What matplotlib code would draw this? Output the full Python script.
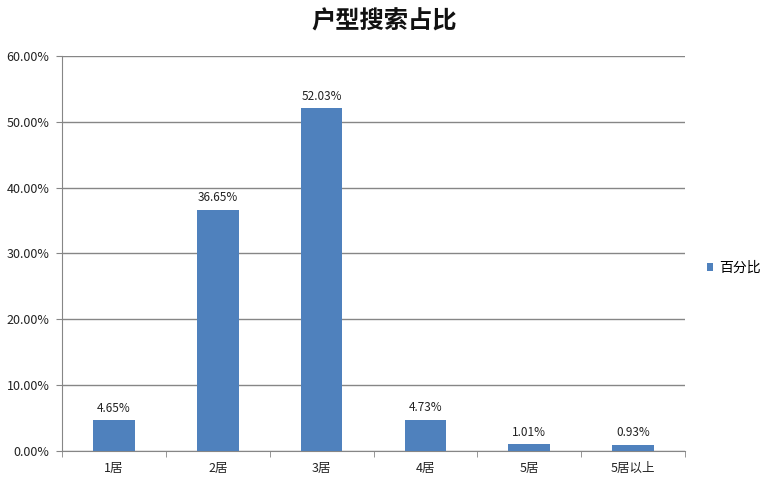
import matplotlib
matplotlib.use("Agg")
import matplotlib.pyplot as plt
from matplotlib.ticker import FuncFormatter
from matplotlib.patches import Patch

categories = ["1居", "2居", "3居", "4居", "5居", "5居以上"]
values = [4.65, 36.65, 52.03, 4.73, 1.01, 0.93]
series_name = "百分比"
title = "户型搜索占比"
yticks = [0, 10, 20, 30, 40, 50, 60]

plt.rcParams['font.family'] = ['Noto Sans CJK SC', 'DejaVu Sans']

fig = plt.figure(figsize=(7.68, 4.94), dpi=100)
ax = fig.add_axes([62/768, 1-451/494, (685-62)/768, (451-56)/494])

bar_color = "#4F81BD"
x = list(range(len(categories)))
bars = ax.bar(x, values, width=0.4, color=bar_color, zorder=3)

for xi, v in zip(x, values):
    ax.annotate(f"{v:.2f}%", (xi, v), xytext=(0, 4), textcoords="offset points",
                ha="center", va="bottom", fontsize=8.5, color="#222222")

ax.set_ylim(0, 60)
ax.set_xlim(-0.5, len(categories) - 0.5)
ax.set_yticks(yticks)
ax.yaxis.set_major_formatter(FuncFormatter(lambda v, p: f"{v:.2f}%"))
ax.set_xticks(x)
ax.set_xticklabels(categories)
ax.set_xticks([i + 0.5 for i in range(-1, len(categories))], minor=True)
ax.tick_params(axis="x", which="major", length=0, pad=8, labelsize=9, labelcolor="#222222")
ax.tick_params(axis="x", which="minor", length=4, color="#868686", direction="out")
ax.tick_params(axis="y", length=4, color="#868686", labelsize=9, labelcolor="#222222", pad=5)

ax.grid(axis="y", color="#868686", linewidth=1.0, zorder=0)
for s in ["top", "right"]:
    ax.spines[s].set_visible(False)
ax.spines["left"].set_color("#868686")
ax.spines["bottom"].set_color("#868686")

fig.text(0.5, 1-22/494, title, ha="center", va="center", fontsize=17.5, fontweight="bold", color="#111111")

handle = Patch(facecolor=bar_color, edgecolor="none")
fig.legend([handle], [series_name], loc="center left", bbox_to_anchor=(694/768, 1-268/494),
           frameon=False, fontsize=10, handlelength=0.5, handleheight=0.5, handletextpad=0.4)

fig.savefig("out.png", dpi=100, facecolor="white")
